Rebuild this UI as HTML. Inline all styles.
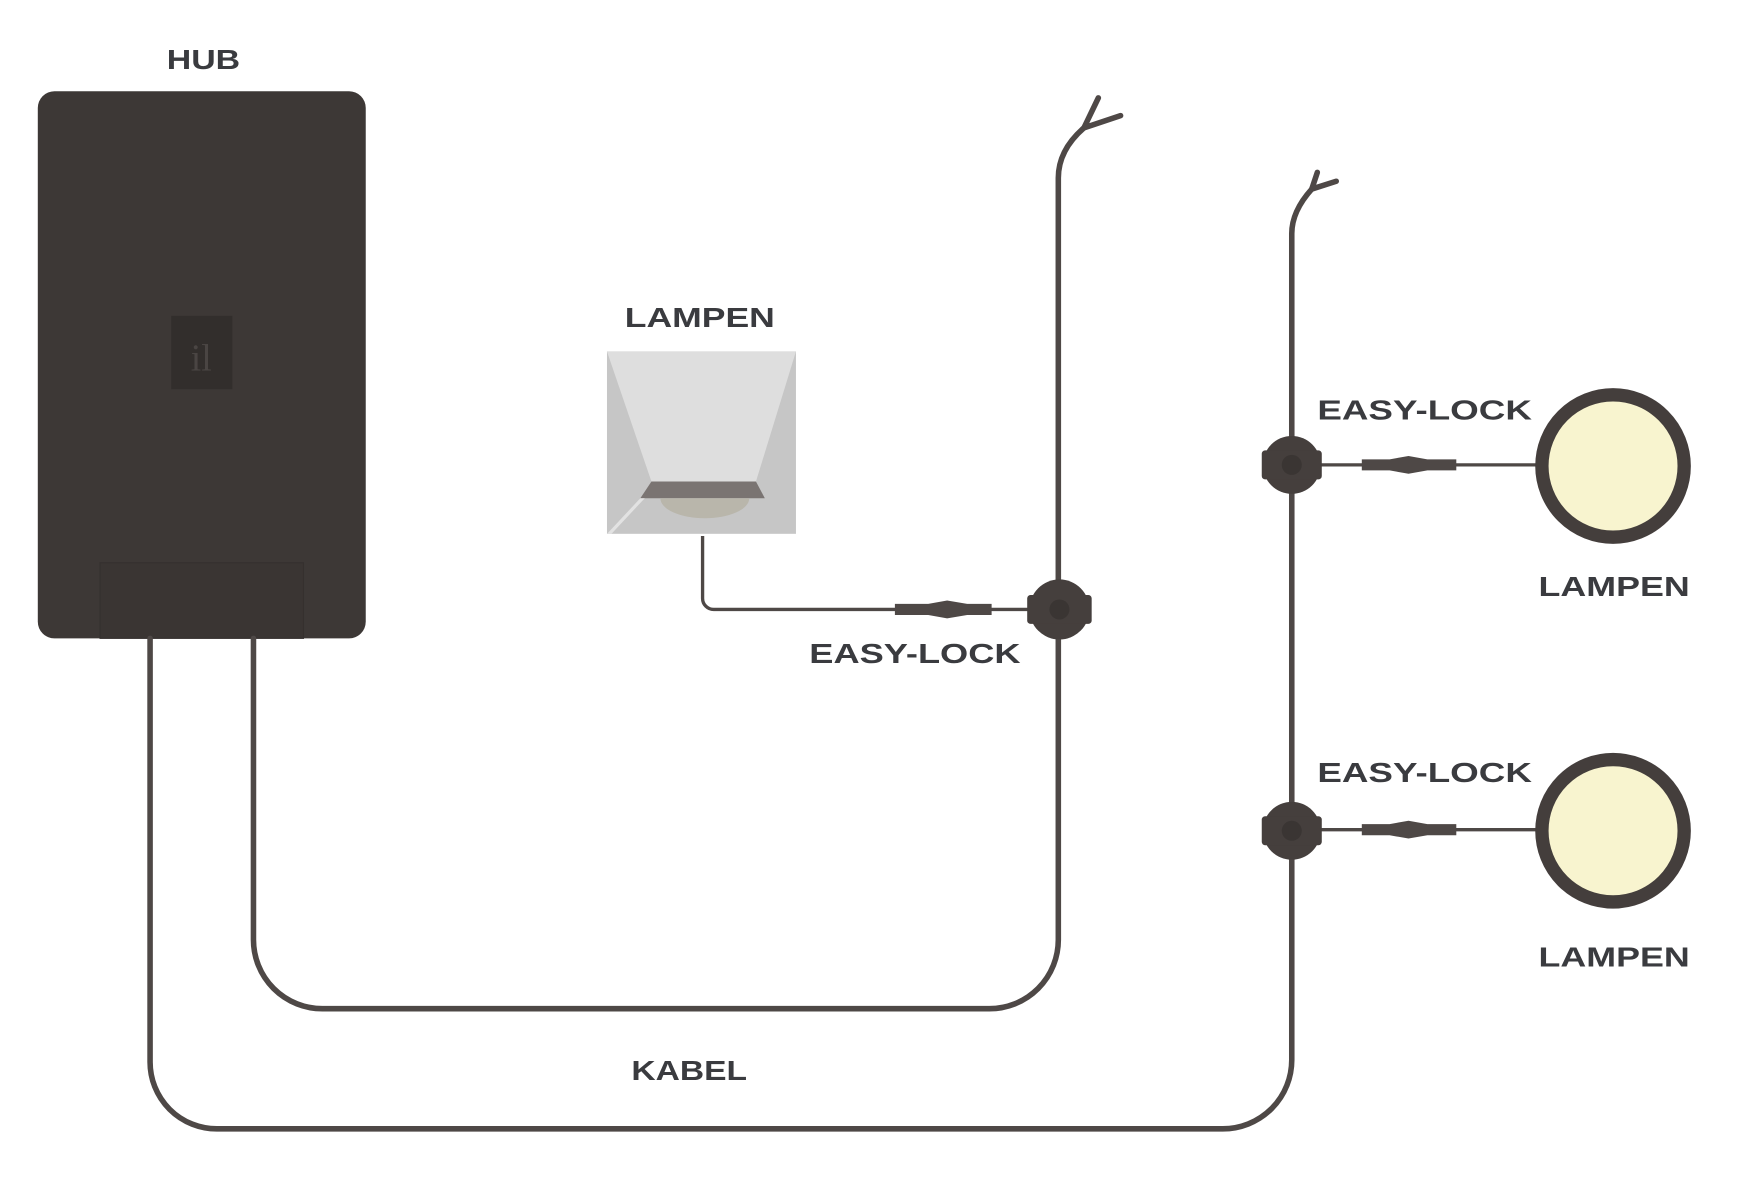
<!DOCTYPE html>
<html><head><meta charset="utf-8"><style>html,body{margin:0;padding:0;background:#fff}svg{display:block}text{font-family:"Liberation Sans",sans-serif;font-weight:bold;fill:#3a3b3f;font-size:25px}</style></head>
<body>
<svg width="1742" height="1200" viewBox="0 0 1567 1079" preserveAspectRatio="none" xmlns="http://www.w3.org/2000/svg">
<rect width="1567" height="1079" fill="#fff"/>
<!-- hub -->
<rect x="34" y="82" width="295" height="492" rx="15" fill="#3d3836"/>
<rect x="90" y="506" width="183" height="68" fill="#3a3533" stroke="#35302e" stroke-width="1"/>
<rect x="154" y="284" width="55" height="66" fill="#322e2c"/>
<text x="181" y="333" text-anchor="middle" style="font-family:'Liberation Serif',serif;font-weight:normal;font-size:34px;fill:#4a4543">il</text>
<text x="150" y="62" textLength="66" lengthAdjust="spacingAndGlyphs">HUB</text>
<!-- cables -->
<g fill="none" stroke="#4e4846" stroke-width="5" stroke-linecap="round">
<path d="M228 574 V845 A62 62 0 0 0 290 907 H890 A62 62 0 0 0 952 845 V160 Q952 135 975 115"/>
<path d="M975 115 L988 88 M975 115 L1008 104"/>
<path d="M135 574 V955 A60 60 0 0 0 195 1015 H1100 A62 62 0 0 0 1162 953 V210 Q1162 190 1180 170"/>
<path d="M1180 170 L1185 155 M1180 170 L1202 163"/>
</g>
<g fill="none" stroke="#4e4846" stroke-width="3">
<path d="M632 482 V538 A10 10 0 0 0 642 548 H930"/>
<path d="M1185 418 H1382"/>
<path d="M1185 746 H1382"/>
</g>
<!-- connectors -->
<g fill="#4e4846">
<path d="M805 543 H835 L852 540 L870 543 H892 V553 H870 L852 556 L835 553 H805 Z"/>
<path d="M1225 413 H1250 L1267 410 L1284 413 H1310 V423 H1284 L1267 426 L1250 423 H1225 Z"/>
<path d="M1225 741 H1250 L1267 738 L1284 741 H1310 V751 H1284 L1267 754 L1250 751 H1225 Z"/>
</g>
<!-- junctions -->
<g fill="#453f3d">
<circle cx="953" cy="548" r="27"/><rect x="924" y="535" width="58" height="26" rx="3"/>
<circle cx="1162" cy="418" r="26"/><rect x="1135" y="405" width="54" height="26" rx="3"/>
<circle cx="1162" cy="747" r="26"/><rect x="1135" y="734" width="54" height="26" rx="3"/>
</g>
<g fill="#3a3533"><circle cx="953" cy="548" r="9"/><circle cx="1162" cy="418" r="9"/><circle cx="1162" cy="747" r="9"/></g>
<!-- lamp box -->
<rect x="546" y="316" width="170" height="164" fill="#c6c6c6"/>
<polygon points="546,316 716,316 680,433 586,433" fill="#dedede"/>
<polygon points="586,433 680,433 688,448 576,448" fill="#7a7472"/>
<path d="M594 448 A40 18 0 0 0 674 448 Z" fill="#b9b6ab"/>
<polygon points="576,448 546,480 550,480 580,448" fill="#e2e2e2"/>
<!-- round lamps -->
<circle cx="1451" cy="419" r="64" fill="#f8f4cf" stroke="#443e3c" stroke-width="12"/>
<circle cx="1451" cy="747" r="64" fill="#f8f4cf" stroke="#443e3c" stroke-width="12"/>
<!-- labels -->
<text x="562" y="294" textLength="135" lengthAdjust="spacingAndGlyphs">LAMPEN</text>
<text x="728" y="596" textLength="190" lengthAdjust="spacingAndGlyphs">EASY-LOCK</text>
<text x="1185" y="377" textLength="193" lengthAdjust="spacingAndGlyphs">EASY-LOCK</text>
<text x="1185" y="703" textLength="193" lengthAdjust="spacingAndGlyphs">EASY-LOCK</text>
<text x="1384" y="536" textLength="136" lengthAdjust="spacingAndGlyphs">LAMPEN</text>
<text x="1384" y="869" textLength="136" lengthAdjust="spacingAndGlyphs">LAMPEN</text>
<text x="568" y="971" textLength="104" lengthAdjust="spacingAndGlyphs">KABEL</text>
</svg>
</body></html>
